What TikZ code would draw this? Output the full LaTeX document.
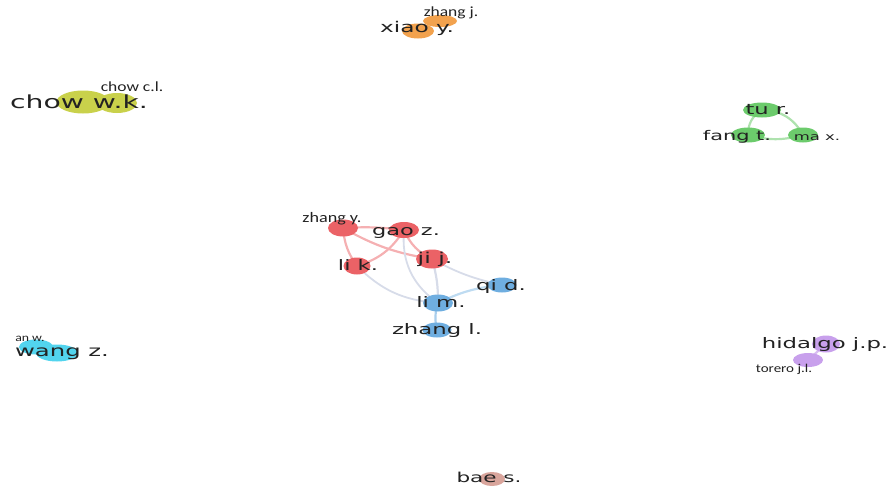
\documentclass[tikz,border=0pt]{standalone}
\usepackage{fontspec}
\newfontfamily\bigfont[FakeStretch=1.57]{DejaVu Sans}
\newfontfamily\smallfont[FakeStretch=1.25]{Carlito}
\newcommand{\fs}[1]{\fontsize{#1}{#1}\selectfont}
\usetikzlibrary{shapes.geometric, backgrounds}
\definecolor{vred}{HTML}{EB6266}
\definecolor{vblue}{HTML}{6FAEE0}
\definecolor{vgreen}{HTML}{6CCB6C}
\definecolor{vyellow}{HTML}{C9D14B}
\definecolor{vorange}{HTML}{F2A24E}
\definecolor{vcyan}{HTML}{52D4EE}
\definecolor{vpurple}{HTML}{C8A0EC}
\definecolor{vbrown}{HTML}{D9A59C}
\definecolor{labtext}{HTML}{222222}

\begin{document}
\begin{tikzpicture}[
    x=1pt, y=-1pt,
    blob/.style  = {ellipse, draw=none, inner sep=0pt},
    sz/.style n args = {2}{minimum width=#1pt, minimum height=#2pt},
    lab/.style   = {inner sep=0pt, text height=1ex, text depth=0pt,
                    text=labtext},
    big/.style   = {lab, font=\bigfont\fs{#1}},
    small/.style = {lab, font=\smallfont\fs{#1}},
    link/.style  = {line width=2.2pt, line cap=round},
    redlink/.style   = {link, draw=vred!50},
    mixlink/.style   = {link, draw=vred!25!vblue!35!white},
    bluelink/.style  = {link, draw=vblue!60},
    greenlink/.style = {link, draw=vgreen!55},
]
\useasboundingbox (0,0) rectangle (893,488);

%% -- nodes --
\node[blob, fill=vorange, sz={34}{12}] (zhangj) at (440,21) {};
\node[blob, fill=vorange, sz={32}{15}] (xiaoy) at (418,31) {};

\node[blob, fill=vyellow, sz={40}{20}] (chowc) at (117,103) {};
\node[blob, fill=vyellow, sz={53}{23}] (choww) at (83,102) {};

\node[blob, fill=vgreen, sz={38}{15}] (tur) at (762,110) {};
\node[blob, fill=vgreen, sz={34}{15}] (fangt) at (748,135) {};
\node[blob, fill=vgreen, sz={30}{15}] (max) at (803,135) {};

\node[blob, fill=vred, sz={30}{17}] (zhangy) at (343,228) {};
\node[blob, fill=vred, sz={30}{16}] (gaoz) at (404,230) {};
\node[blob, fill=vred, sz={32}{19}] (jij) at (432,259) {};
\node[blob, fill=vred, sz={27}{17}] (lik) at (357,266) {};
\node[blob, fill=vblue, sz={29}{15}] (qid) at (502,285) {};
\node[blob, fill=vblue, sz={30}{17}] (lim) at (438,303) {};
\node[blob, fill=vblue, sz={29}{15}] (zhangl) at (437,330) {};

\node[blob, fill=vcyan, sz={34}{15}] (anw) at (36,347) {};
\node[blob, fill=vcyan, sz={42}{17}] (wangz) at (57,353) {};

\node[blob, fill=vpurple, sz={30}{14}] (torero) at (808,360) {};
\node[blob, fill=vpurple, sz={28}{17}] (hidalgo) at (826,344) {};

\node[blob, fill=vbrown, sz={26}{14}] (baes) at (492,479) {};

%% -- links --
\begin{scope}[on background layer]
  \draw[redlink] (zhangy.center) to[bend left=5] (gaoz.center);
  \draw[redlink] (zhangy.center) to[bend right=10] (jij.center);
  \draw[redlink] (zhangy.center) to[bend right=15] (lik.center);
  \draw[redlink] (gaoz.center) to[bend left=20] (lik.center);
  \draw[redlink] (gaoz.center) to[bend right=20] (jij.center);
  \draw[mixlink, line width=1.8pt] (gaoz.center) to[bend right=30] (lim.center);
  \draw[mixlink, line width=1.8pt] (lik.center) to[bend right=20] (lim.center);
  \draw[mixlink] (jij.center) to[bend left=8] (lim.center);
  \draw[mixlink, line width=1.8pt] (jij.center) to[bend right=8] (qid.center);
  \draw[bluelink, draw=vblue!45] (lim.center) to[bend left=10] (qid.center);
  \draw[bluelink] (lim.center) to[bend right=15] (zhangl.center);

  \draw[greenlink] (tur.center) to[bend right=30] (fangt.center);
  \draw[greenlink] (tur.center) to[bend left=30] (max.center);
  \draw[greenlink] (fangt.center) to[bend right=15] (max.center);

  \draw[link, draw=vpurple!70] (hidalgo.center) -- (torero.center);
\end{scope}

%% -- labels --
\node[small=14] (zhangj-l) at (451,14) {zhang j.};
\node[big=14.8] (xiaoy-l) at (417,30) {xiao y.};
\node[big=18] (choww-l) at (79,106) {chow w.k.};
\node[small=14] (chowc-l) at (132,89) {chow c.l.};
\node[big=14.4] (tur-l) at (768,112) {tu r.};
\node[big=13.3] (fangt-l) at (737,138) {fang t.};
\node[big=10.5] (max-l) at (817,138) {ma x.};
\node[small=14.5] (zhangy-l) at (332,220) {zhang y.};
\node[big=14.3] (gaoz-l) at (406,233) {gao z.};
\node[big=15] (jij-l) at (435,261) {ji j.};
\node[big=14.4] (lik-l) at (358,268) {li k.};
\node[big=14.5] (qid-l) at (501,288) {qi d.};
\node[big=14.5] (lim-l) at (441,305) {li m.};
\node[big=14.5] (zhangl-l) at (437,332) {zhang l.};
\node[small=11] (anw-l) at (30,339) {an w.};
\node[big=15.5] (wangz-l) at (62,354) {wang z.};
\node[big=14.5] (hidalgo-l) at (825,346) {hidalgo j.p.};
\node[small=12] (torero-l) at (784,370) {torero j.l.};
\node[big=13.7] (baes-l) at (489,480) {bae s.};
\end{tikzpicture}
\end{document}
